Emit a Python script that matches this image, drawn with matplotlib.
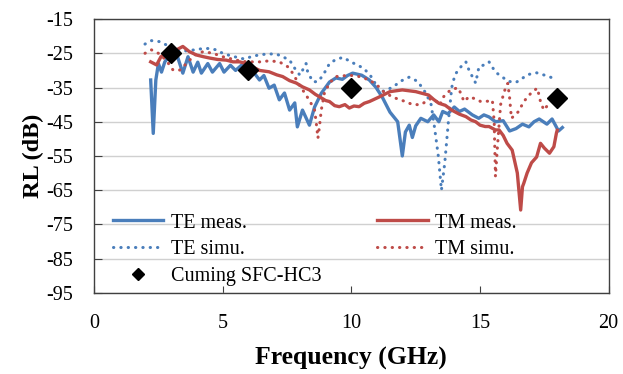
import matplotlib
matplotlib.use("Agg")
import matplotlib.pyplot as plt

plt.rcParams['font.family'] = ['Liberation Serif', 'DejaVu Serif']
plt.rcParams['axes.unicode_minus'] = False

BLUE = '#4a7ebb'
RED = '#be4b48'

# TE measured
te_meas_f = [2.2, 2.3, 2.4, 2.5, 2.62, 2.75, 2.9, 3.05, 3.2, 3.45, 3.65, 3.85, 4.03,
             4.17, 4.42, 4.6, 4.88, 5.05, 5.3, 5.5, 5.8, 6.05, 6.25, 6.43, 6.6, 6.8,
             7.0, 7.2, 7.4, 7.6, 7.8, 7.9, 8.1, 8.37, 8.57, 8.83, 9.15, 9.4, 9.65,
             9.85, 10.05, 10.4, 10.7, 10.96, 11.2, 11.5, 11.8, 11.98, 12.1, 12.25,
             12.37, 12.5, 12.7, 12.97, 13.2, 13.4, 13.55, 13.75, 14.0, 14.2, 14.4,
             14.7, 14.95, 15.15, 15.35, 15.6, 15.9, 16.15, 16.4, 16.65, 16.9, 17.1,
             17.3, 17.6, 17.8, 18.05, 18.2]
te_meas = [-32.8, -48.4, -32.8, -28, -30.5, -27.5, -26, -25.5, -25, -30.8, -26, -30.5,
           -27.6, -30.8, -28, -30.5, -28, -30.5, -28.5, -30, -28, -29, -31, -32.8,
           -31.5, -35.2, -34.3, -38.6, -36.6, -41.6, -39.5, -46.5, -41.6, -46, -40.7,
           -36.7, -33.4, -32.2, -32.6, -31.5, -30.8, -31.4, -32.8, -35, -37.8, -42.2,
           -45, -55, -48, -46, -49.6, -46.2, -44, -45, -43, -45, -42, -42.7, -40.7,
           -42, -41.3, -43, -44, -43, -43.6, -45, -44.7, -47.7, -47, -45.7, -46.5,
           -45, -44.2, -45.7, -44.2, -47.7, -46.7]

# TM measured
tm_meas_f = [2.2, 2.43, 2.6, 2.8, 3.0, 3.2, 3.45, 3.7, 3.98, 4.25, 4.5, 4.8, 5.14, 5.4,
             5.66, 5.9, 6.17, 6.43, 6.8, 7.1, 7.33, 7.6, 7.86, 8.1, 8.37, 8.6, 8.76,
             9.0, 9.15, 9.35, 9.53, 9.75, 9.92, 10.1, 10.3, 10.5, 10.7, 11.1, 11.5,
             11.98, 12.5, 13.0, 13.2, 13.4, 13.65, 13.9, 14.2, 14.45, 14.65, 14.83,
             15.0, 15.2, 15.35, 15.6, 15.74, 15.9, 16.05, 16.25, 16.45, 16.58, 16.65,
             16.7, 16.83, 17.0, 17.2, 17.35, 17.5, 17.7, 17.87, 17.97, 18.0]
tm_meas = [-27.5, -28.4, -26, -25, -24.5, -24, -23, -24.5, -25.5, -26, -26.4, -26.8,
           -27, -27.5, -27.5, -28, -29, -30, -30.4, -31.3, -31.8, -33, -33.7, -34.8,
           -35.7, -37, -37.7, -38.8, -39.1, -40.3, -40.6, -40, -41, -40.4, -40.6,
           -39.6, -39.1, -37.7, -36.2, -35.7, -36.2, -37.2, -38.5, -39.6, -40.2,
           -41.6, -42.8, -43.5, -44.5, -45, -46, -46.4, -46.4, -47.4, -47.4, -49,
           -51.3, -53.3, -60, -70.8, -64, -63, -60, -57, -55.3, -51.3, -52.7, -54.2,
           -52.3, -48.3, -47.5]

# TE simulated
te_simu_f = [1.98, 2.23, 2.56, 2.82, 3.33, 3.9, 4.24, 4.5, 4.75, 5.0, 5.34, 5.85, 6.17,
             6.7, 7.08, 7.33, 7.6, 7.8, 8.0, 8.24, 8.3, 8.5, 8.7, 8.9, 9.15, 9.4, 9.67,
             10.06, 10.46, 10.66, 10.86, 11.05, 11.3, 11.65, 11.9, 12.24, 12.58, 12.9,
             13.1, 13.24, 13.38, 13.5, 13.63, 13.77, 13.9, 14.03, 14.25, 14.45, 14.57,
             14.83, 14.96, 15.16, 15.35, 15.6, 16.1, 16.4, 16.87, 17.2, 17.6, 18.0]
te_simu = [-22.3, -21.3, -21.6, -22.6, -24.5, -24, -23.6, -23.6, -24, -25, -25.8,
           -26.7, -25.8, -25.2, -25.2, -26, -27, -29.4, -31.4, -28, -30.4, -33.3,
           -33.3, -31.4, -28, -26.8, -26.2, -27.8, -29.3, -30.8, -32.7, -36.2, -36,
           -34.7, -33.2, -32, -33.2, -36.7, -40, -47.1, -55.1, -65, -57, -45, -35,
           -31.2, -29, -27.5, -29.9, -33.7, -28.9, -28.4, -27.5, -30.5, -33.2, -33.5,
           -31.2, -30.7, -31.6, -32.7]

# TM simulated
tm_simu_f = [1.98, 2.23, 2.5, 2.8, 3.07, 3.33, 3.59, 3.91, 4.24, 4.62, 5.0, 5.53, 5.92,
             6.43, 6.82, 7.2, 7.52, 7.72, 7.98, 8.24, 8.43, 8.57, 8.63, 8.7, 8.76, 8.83,
             8.95, 9.15, 9.4, 9.92, 10.3, 10.7, 11.0, 11.25, 11.6, 11.9, 12.1, 12.38,
             12.7, 13.1, 13.3, 13.43, 13.55, 13.7, 13.9, 14.16, 14.38, 14.57, 14.77,
             15.03, 15.3, 15.48, 15.55, 15.6, 15.68, 15.8, 15.95, 16.08, 16.15, 16.22,
             16.5, 16.7, 17.03, 17.23, 17.35, 17.48, 17.74]
tm_simu = [-25, -24, -25, -27, -29.9, -29.9, -28, -25.5, -24.5, -25, -26, -27, -27.5,
           -27.5, -27.2, -27.5, -28.9, -30.8, -34.3, -37.2, -39.6, -41.6, -45, -49.8,
           -46.4, -41.6, -36.7, -33.7, -31.8, -31.4, -31.8, -32.8, -34.3, -36.2,
           -37.8, -38.6, -39.1, -40, -40, -38.2, -39, -40.2, -38, -36.7, -35.5, -35.1,
           -39.1, -37.7, -38.2, -39.1, -39, -38.7, -45, -61, -52, -40, -36, -33.8,
           -38, -44, -42, -39.1, -36.2, -35.2, -39.1, -41.6, -39.1]

# Cuming SFC-HC3 reference points
ref_f = [3, 6, 10, 18]
ref_rl = [-25, -30, -35, -38]

fig = plt.figure(figsize=(6.23, 3.74), dpi=100)
ax = fig.add_axes([0.151, 0.217, 0.826, 0.732])

dot = (0, (0.1, 2.3))
ax.plot(te_meas_f, te_meas, color=BLUE, lw=2.4, label='TE meas.', zorder=3)
ax.plot(te_simu_f, te_simu, color=BLUE, lw=2.2, ls=dot, dash_capstyle='round',
        label='TE simu.', zorder=3)
ax.plot(ref_f, ref_rl, ls='none', marker='D', ms=10.5, color='black',
        label='Cuming SFC-HC3', zorder=5)
ax.plot(tm_meas_f, tm_meas, color=RED, lw=2.4, label='TM meas.', zorder=3)
ax.plot(tm_simu_f, tm_simu, color=RED, lw=2.2, ls=dot, dash_capstyle='round',
        label='TM simu.', zorder=3)

ax.set_xlim(0, 20)
ax.set_ylim(-95, -15)
ax.set_xticks([0, 5, 10, 15, 20])
ax.set_yticks(range(-95, -14, 10))
ax.grid(axis='y', color='#d0d0d0', lw=1)
ax.set_axisbelow(True)
for s in ax.spines.values():
    s.set_color('#404040')
    s.set_linewidth(1)
ax.tick_params(axis='x', direction='in', length=5, labelsize=14.5, pad=15, color='#404040')
ax.tick_params(axis='y', direction='in', length=6, labelsize=14.5, pad=15, color='#404040')

ax.set_xlabel('Frequency (GHz)', fontsize=18.5, fontweight='bold', labelpad=10)
ax.set_ylabel('RL (dB)', fontsize=17.5, fontweight='bold', labelpad=2)

ax.legend(ncol=2, loc='upper left', bbox_to_anchor=(0.037, 0.29), frameon=False,
          fontsize=14.5, handlelength=2.5, handletextpad=0.35, columnspacing=2.8,
          labelspacing=0.38, markerscale=0.6, borderaxespad=0, borderpad=0)

fig.savefig('out.png', dpi=100)
